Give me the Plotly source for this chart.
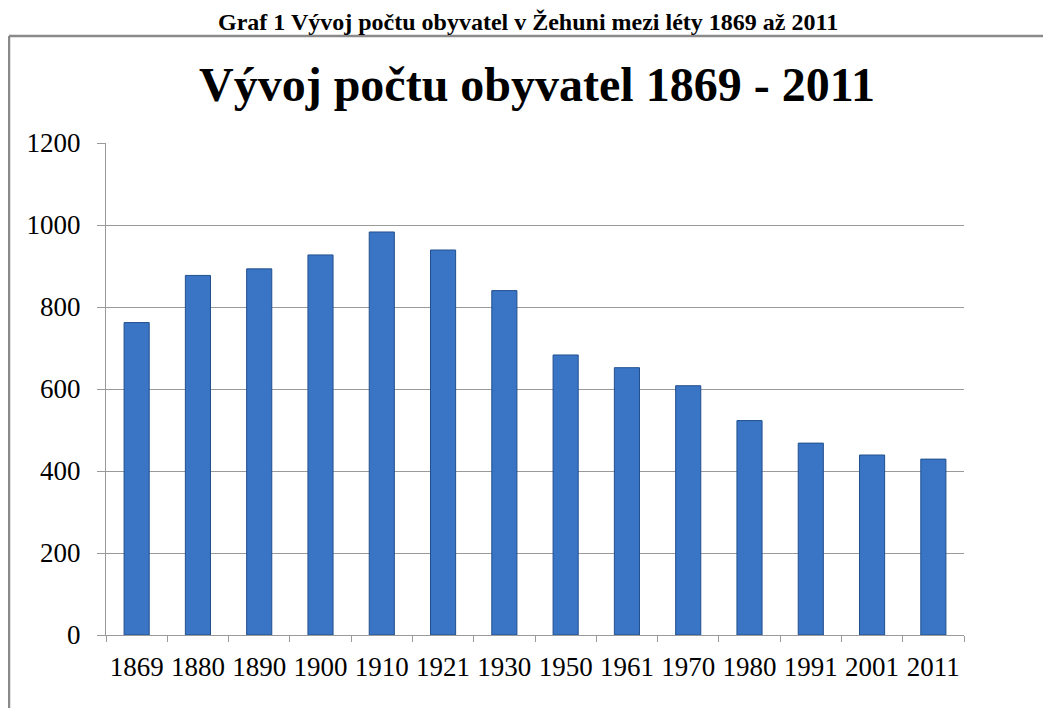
import plotly.graph_objects as go

years = ["1869", "1880", "1890", "1900", "1910", "1921", "1930",
         "1950", "1961", "1970", "1980", "1991", "2001", "2011"]
population = [762, 877, 893, 927, 983, 939, 840, 683, 652, 608, 523, 468, 439, 429]
y_ticks = [0, 200, 400, 600, 800, 1000, 1200]

caption = "Graf 1 Vývoj počtu obyvatel v Žehuni mezi léty 1869 až 2011"
title = "Vývoj počtu obyvatel 1869 - 2011"

# page is offset by 8px body margin
OFF = 8
W, H = 1051 - OFF, 708 - OFF
L, T = 106 - OFF, 143 - OFF
pw, ph = 858, 492
R, B = W - L - pw, H - T - ph

def px(x):  # page pixel -> paper
    return (x - OFF - L) / pw

def py(y):
    return (T + ph - (y - OFF)) / ph

fig = go.Figure()
fig.add_trace(go.Bar(
    x=years, y=population,
    marker=dict(color="#3a74c4", line=dict(color="#22508e", width=1)),
    width=0.41,
))

fig.update_layout(
    width=W, height=H,
    margin=dict(l=L, r=R, t=T, b=B),
    paper_bgcolor="white", plot_bgcolor="white",
    showlegend=False,
    font=dict(family="Liberation Serif, Times New Roman, serif", color="black"),
    xaxis=dict(
        type="category",
        showline=True, linecolor="#9a9a9a", linewidth=1,
        ticks="outside", tickson="boundaries", ticklen=6, tickcolor="#9a9a9a",
        showgrid=False, tickangle=0,
        tickfont=dict(size=27, family="Liberation Serif", color="black"),
        ticklabelstandoff=8,
    ),
    yaxis=dict(
        range=[0, 1200], tickvals=y_ticks,
        showline=True, linecolor="#9a9a9a", linewidth=1,
        ticks="outside", ticklen=8, tickcolor="#9a9a9a",
        showgrid=True, gridcolor="#9a9a9a", gridwidth=1,
        zeroline=False,
        tickfont=dict(size=27, family="Liberation Serif", color="black"),
        ticklabelstandoff=11,
    ),
    annotations=[
        dict(text="<b>" + caption + "</b>", x=px(528), y=py(22),
             xref="paper", yref="paper", showarrow=False,
             font=dict(size=24, family="Liberation Serif", color="black"),
             xanchor="center", yanchor="middle"),
        dict(text="<b>" + title + "</b>", x=px(537), y=py(84),
             xref="paper", yref="paper", showarrow=False,
             font=dict(size=48, family="Liberation Serif", color="black"),
             xanchor="center", yanchor="middle"),
    ],
    shapes=[
        dict(type="line", xref="paper", yref="paper",
             x0=px(9), y0=py(36), x1=px(1060), y1=py(36),
             line=dict(color="#8a8a8a", width=2.5)),
        dict(type="line", xref="paper", yref="paper",
             x0=px(9), y0=py(36), x1=px(9), y1=py(720),
             line=dict(color="#8a8a8a", width=2.5)),
    ],
)

fig.write_html("out.html")
